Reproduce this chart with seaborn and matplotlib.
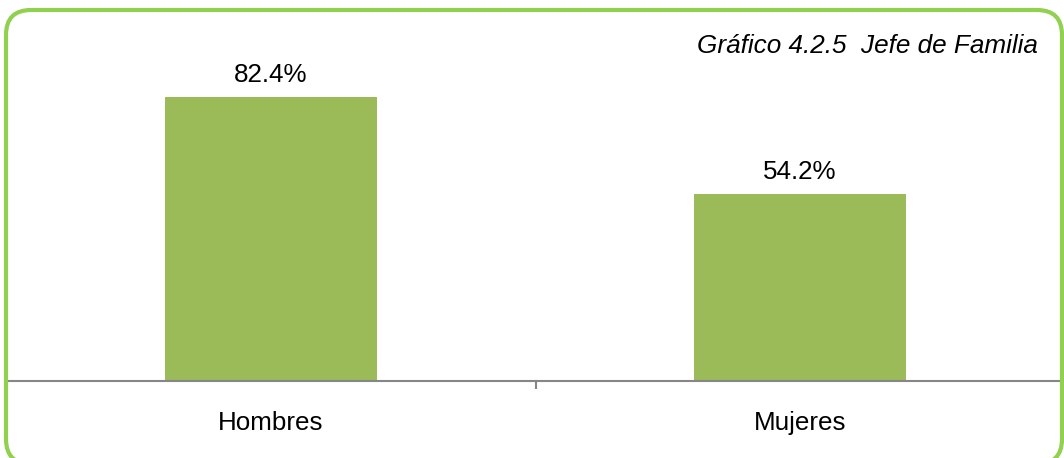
import matplotlib
matplotlib.use("Agg")
import matplotlib.pyplot as plt
import seaborn as sns
from matplotlib.patches import FancyBboxPatch
from matplotlib.transforms import IdentityTransform

categories = ["Hombres", "Mujeres"]
values = [82.4, 54.2]
title = "Gráfico 4.2.5  Jefe de Familia"

sns.set_theme(style="white")
plt.rcParams['font.family'] = ['Liberation Sans', 'DejaVu Sans']

W, H = 1064, 458
fig = plt.figure(figsize=(W / 100, H / 100), dpi=100)
ax = fig.add_axes([6.5 / W, 77 / H, 1058 / W, 344.7 / H])

sns.barplot(x=categories, y=values, color="#9BBB59", width=0.4, ax=ax,
            saturation=1, edgecolor="none")
ax.set_xlim(-0.5, 1.5)
ax.set_ylim(0, 100)

for c in ax.containers:
    ax.bar_label(c, labels=[f"{v:.1f}%" for v in values], padding=7.5,
                 fontsize=18.7, color="black")

for s in ["top", "left", "right"]:
    ax.spines[s].set_visible(False)
ax.spines["bottom"].set_color("#868686")
ax.spines["bottom"].set_linewidth(1.5)
ax.set_yticks([])
ax.set_xticks([0, 1])
ax.set_xticklabels(categories, fontsize=18.7, color="black")
ax.tick_params(axis="x", which="major", length=0, pad=21.5)
ax.set_xticks([0.5], minor=True)
ax.tick_params(axis="x", which="minor", length=6, width=1.5, color="#868686",
               direction="out", bottom=True)
ax.set_xlabel("")
ax.set_ylabel("")
ax.patch.set_alpha(0)

fig.text(1038 / W, (H - 53) / H, title, ha="right", va="baseline",
         fontsize=18.8, style="italic", color="black")

box = FancyBboxPatch((6 + 25, -6 + 25), (1062 - 6) - 50, (448 + 6) - 50,
                     boxstyle="round,pad=25,rounding_size=25",
                     transform=IdentityTransform(), facecolor="none",
                     edgecolor="#92D050", linewidth=3, zorder=10)
fig.patches.append(box)

fig.savefig("out.png", dpi=100)
